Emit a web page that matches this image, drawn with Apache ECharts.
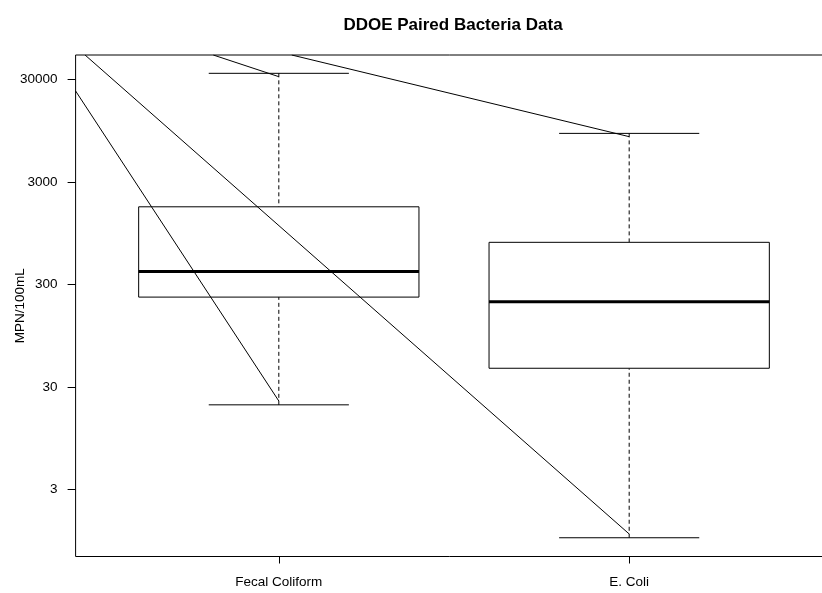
<!DOCTYPE html>
<html>
<head>
<meta charset="utf-8">
<script src="https://cdn.jsdelivr.net/npm/echarts@6/dist/echarts.min.js"></script>
<style>html,body{margin:0;padding:0;background:#fff}#c{width:822px;height:593px}</style>
</head>
<body>
<div id="c"></div>
<script>
// ---- data (MPN/100mL) ----
const categories = ['Fecal Coliform', 'E. Coli'];
const positions = [1, 2];
const lowerWhisker = [20, 1.01];
const q1 = [225, 45.5];
const median = [400, 203];
const q3 = [1710, 770];
const upperWhisker = [34300, 8900];

// paired lines (start point on plot border, end point at whisker)
const pairStartX = [0.42, 0.447, 0.813, 1.037];
const pairStartY = [23070, 51760, 51760, 51760];
const pairEndX = [1, 2, 1, 2];
const pairEndY = [21.8, 1.1, 31800, 8265];

const yTickValues = [3, 30, 300, 3000, 30000];
const yTickLabels = ['3', '30', '300', '3000', '30000'];

const L = Math.log10;
const FONT = 'Liberation Sans, Arial, Helvetica, sans-serif';

const boxData = positions.map((p, i) => [p, L(lowerWhisker[i]), L(q1[i]), L(median[i]), L(q3[i]), L(upperWhisker[i])]);

const boxHalf = 0.4, capHalf = 0.2;

function renderBox(params, api) {
  const x = api.value(0);
  const lw = api.value(1), a = api.value(2), m = api.value(3), b = api.value(4), uw = api.value(5);
  const pL = api.coord([x - boxHalf, b]);
  const pR = api.coord([x + boxHalf, a]);
  const mL = api.coord([x - boxHalf, m]);
  const mR = api.coord([x + boxHalf, m]);
  const c = api.coord([x, uw]);
  const cq3 = api.coord([x, b]);
  const cq1 = api.coord([x, a]);
  const cl = api.coord([x, lw]);
  const capUL = api.coord([x - capHalf, uw]), capUR = api.coord([x + capHalf, uw]);
  const capLL = api.coord([x - capHalf, lw]), capLR = api.coord([x + capHalf, lw]);
  const solid = { stroke: '#000', lineWidth: 1, fill: null };
  const dashed = { stroke: '#000', lineWidth: 1, lineDash: [4, 3], fill: null };
  return {
    type: 'group',
    children: [
      { type: 'line', shape: { x1: c[0], y1: c[1], x2: cq3[0], y2: cq3[1] }, style: dashed },
      { type: 'line', shape: { x1: cl[0], y1: cl[1], x2: cq1[0], y2: cq1[1] }, style: dashed },
      { type: 'line', shape: { x1: capUL[0], y1: capUL[1], x2: capUR[0], y2: capUR[1] }, style: solid },
      { type: 'line', shape: { x1: capLL[0], y1: capLL[1], x2: capLR[0], y2: capLR[1] }, style: solid },
      { type: 'rect', shape: { x: pL[0], y: pL[1], width: pR[0] - pL[0], height: pR[1] - pL[1] }, style: { stroke: '#000', lineWidth: 1, fill: '#fff' } },
      { type: 'line', shape: { x1: mL[0], y1: mL[1], x2: mR[0], y2: mR[1] }, style: { stroke: '#000', lineWidth: 3 } }
    ]
  };
}

const lineSeries = pairStartX.map((sx, i) => ({
  type: 'line',
  data: [[sx, L(pairStartY[i])], [pairEndX[i], L(pairEndY[i])]],
  symbol: 'none',
  lineStyle: { color: '#000', width: 1 },
  clip: true,
  silent: true,
  z: 5,
  animation: false
}));

const chart = echarts.init(document.getElementById('c'), null, { renderer: 'canvas' });
chart.setOption({
  animation: false,
  backgroundColor: '#fff',
  title: {
    text: 'DDOE Paired Bacteria Data',
    left: 448,
    top: 12,
    textAlign: 'center',
    textStyle: { fontFamily: FONT, fontSize: 17, fontWeight: 'bold', color: '#000' }
  },
  grid: {
    left: 75.6, right: -10.4, top: 55, bottom: 36.5,
    show: true, borderColor: '#000', borderWidth: 1, backgroundColor: 'transparent',
    containLabel: false, outerBoundsMode: 'none'
  },
  xAxis: {
    type: 'value', min: 0.42, max: 2.58,
    splitLine: { show: false },
    axisLine: { show: false, onZero: false },
    axisTick: { show: true, inside: false, length: 7, customValues: positions, lineStyle: { color: '#000', width: 1 } },
    axisLabel: {
      customValues: positions, margin: 19,
      fontFamily: FONT, fontSize: 13.5, color: '#000',
      formatter: v => categories[positions.indexOf(Math.round(v))] || ''
    }
  },
  yAxis: {
    type: 'value', min: -0.1785, max: 4.714,
    name: 'MPN/100mL', nameLocation: 'middle', nameGap: 48, nameMoveOverlap: false,
    nameTextStyle: { fontFamily: FONT, fontSize: 13.5, color: '#000' },
    splitLine: { show: false },
    axisLine: { show: false, onZero: false },
    axisTick: { show: true, inside: false, length: 8, customValues: yTickValues.map(L), lineStyle: { color: '#000', width: 1 } },
    axisLabel: {
      customValues: yTickValues.map(L), margin: 18,
      fontFamily: FONT, fontSize: 13.5, color: '#000',
      formatter: v => {
        let best = 0;
        yTickValues.forEach((t, i) => { if (Math.abs(L(t) - v) < Math.abs(L(yTickValues[best]) - v)) best = i; });
        return yTickLabels[best];
      }
    }
  },
  series: [
    {
      type: 'custom',
      renderItem: renderBox,
      data: boxData,
      encode: { x: 0, y: [1, 2, 3, 4, 5] },
      clip: true,
      z: 2
    }
  ].concat(lineSeries)
});
</script>
</body>
</html>
